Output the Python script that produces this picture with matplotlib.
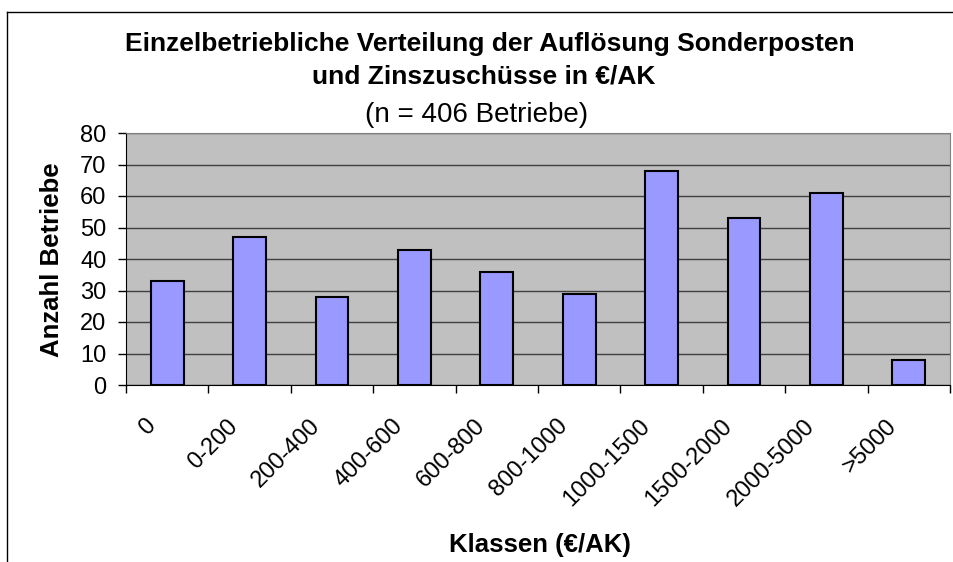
import matplotlib.pyplot as plt
import numpy as np
from matplotlib.lines import Line2D

classes = ['0', '0-200', '200-400', '400-600', '600-800', '800-1000',
           '1000-1500', '1500-2000', '2000-5000', '>5000']
betriebe = [33, 47, 28, 43, 36, 29, 68, 53, 61, 8]
y_ticks = [0, 10, 20, 30, 40, 50, 60, 70, 80]

plt.rcParams['font.family'] = ['Liberation Sans', 'DejaVu Sans']

W, H = 954, 562
fig = plt.figure(figsize=(W / 100, H / 100), dpi=100)
fig.patch.set_facecolor('white')

# outer chart border (runs off the right and bottom of the picture)
fig.add_artist(Line2D([7 / W, 1.0], [1 - 12 / H, 1 - 12 / H], color='black', lw=1))
fig.add_artist(Line2D([7 / W, 7 / W], [0, 1 - 12 / H], color='black', lw=1))

ax = fig.add_axes([126 / W, 1 - 385 / H, (950 - 126) / W, (385 - 133) / H])
ax.set_facecolor('#c0c0c0')

x = np.arange(len(classes))
ax.bar(x, betriebe, width=0.4, color='#9999ff', edgecolor='black', linewidth=1.5, zorder=3)

ax.set_xlim(-0.5, len(classes) - 0.5)
ax.set_ylim(0, 80)
ax.set_yticks(y_ticks)
ax.set_yticklabels([str(v) for v in y_ticks], fontsize=17)
ax.yaxis.grid(True, color='#404040', linewidth=1)
ax.set_axisbelow(True)

ax.set_xticks(np.arange(len(classes) + 1) - 0.5)
ax.set_xticklabels([])
ax.tick_params(axis='both', direction='out', length=6, width=1, colors='black')
ax.tick_params(axis='y', pad=8)
for i, lab in enumerate(classes):
    ax.text(i - 0.28, -9.5, lab, rotation=45, ha='right', va='top',
            rotation_mode='anchor', fontsize=17, clip_on=False)

for side in ['left', 'bottom']:
    ax.spines[side].set_color('black')
for side in ['top', 'right']:
    ax.spines[side].set_color('#808080')

fig.text(52 / W, 1 - 260 / H, 'Anzahl Betriebe', fontsize=18.5, fontweight='bold',
         rotation=90, ha='center', va='center')
fig.text(540 / W, 1 - 552 / H, 'Klassen (€/AK)', fontsize=18.5, fontweight='bold',
         ha='center', va='baseline')

fig.text(490 / W, 1 - 51 / H, 'Einzelbetriebliche Verteilung der Auflösung Sonderposten',
         fontsize=19, fontweight='bold', ha='center', va='baseline')
fig.text(484 / W, 1 - 83 / H, 'und Zinszuschüsse in €/AK',
         fontsize=19, fontweight='bold', ha='center', va='baseline')
fig.text(477 / W, 1 - 122 / H, '(n = 406 Betriebe)',
         fontsize=20, ha='center', va='baseline')

fig.savefig('out.png', dpi=100)
